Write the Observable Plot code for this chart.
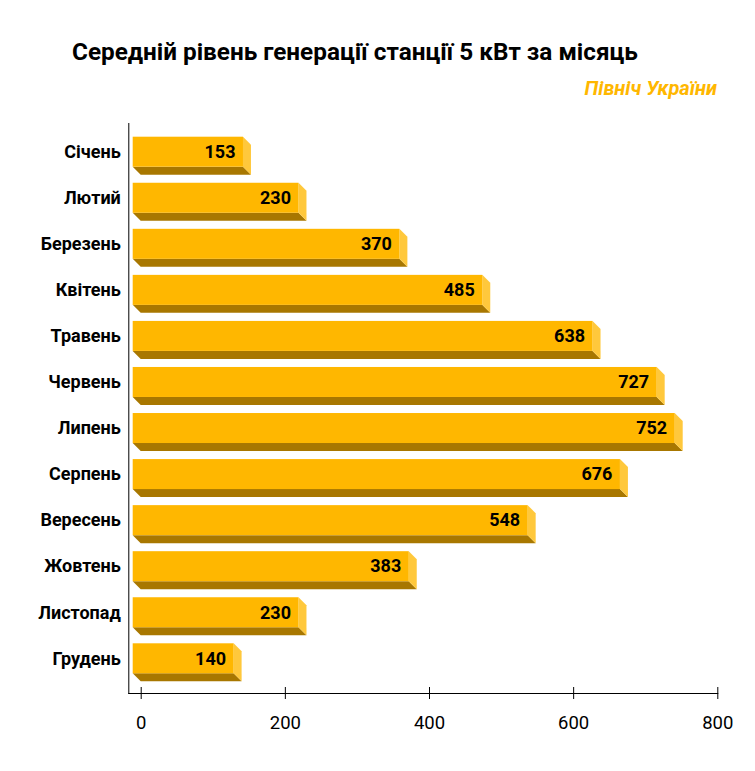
<!DOCTYPE html>
<html>
<head>
<meta charset="utf-8">
<script src="https://cdn.jsdelivr.net/npm/d3@7"></script>
<script src="https://cdn.jsdelivr.net/npm/@observablehq/plot@0.6"></script>
<style>
  html, body { margin: 0; padding: 0; background: #fff; }
  body { width: 755px; height: 771px; overflow: hidden; font-family: Roboto, "Noto Sans", sans-serif; }
  #title { margin-top: 34px; height: 36px; line-height: 36px; padding-left: 72px; font-size: 24.3px; font-weight: 700; color: #000; white-space: nowrap; }
  #subtitle { margin-top: 6px; height: 24px; line-height: 24px; text-align: right; padding-right: 38px; font-size: 20px; font-weight: 700; font-style: italic; color: #FFB700; }
  #chart { margin-top: 10px; height: 661px; }
  #chart svg { display: block; }
</style>
</head>
<body>
<div id="title">Середній рівень генерації станції 5 кВт за місяць</div>
<div id="subtitle">Північ України</div>
<div id="chart"></div>
<script>
const months = ["Січень","Лютий","Березень","Квітень","Травень","Червень","Липень","Серпень","Вересень","Жовтень","Листопад","Грудень"];
const values = [153, 230, 370, 485, 638, 727, 752, 676, 548, 383, 230, 140];
const xTicks = [0, 200, 400, 600, 800];

const colors = { front: "#FFB700", bottom: "#A87700", side: "#FFC83C" };

// layout (pixels)
const W = 755, H = 661;
const mL = 128.3, mR = 37.7, mT = 13, mB = 78;
const inL = 12.4, inT = 28.7, inB = 34.7;
const xDomain = [0, 800];
const pxPerX = (W - mR - mL - inL) / (xDomain[1] - xDomain[0]);
const pxPerY = (H - mB - inB - mT - inT) / (months.length - 1);
const depth = 8, halfH = 15;
const DX = depth / pxPerX, DY = depth / pxPerY, HH = halfH / pxPerY;

const rows = months.map((m, i) => ({ m, i, v: values[i] }));
const bottomPts = rows.flatMap(d => [
  { i: d.i, y: d.i + HH, x1: -DX, x2: d.v - DX },
  { i: d.i, y: d.i + HH + DY, x1: 0, x2: d.v }
]);
const sidePts = rows.flatMap(d => [
  { i: d.i, x: d.v - DX, y1: d.i - HH, y2: d.i + HH },
  { i: d.i, x: d.v, y1: d.i - HH + DY, y2: d.i + HH + DY }
]);

const chart = Plot.plot({
  width: W, height: H,
  marginLeft: mL, marginRight: mR, marginTop: mT, marginBottom: mB,
  style: { fontFamily: "Roboto, 'Noto Sans', sans-serif", color: "#000", background: "#fff" },
  x: { domain: xDomain, insetLeft: inL, insetRight: 0 },
  y: { domain: [0, months.length - 1], reverse: true, insetTop: inT, insetBottom: inB },
  marks: [
    Plot.areaX(bottomPts, { y: "y", x1: "x1", x2: "x2", z: "i", fill: colors.bottom, curve: "linear" }),
    Plot.areaY(sidePts, { x: "x", y1: "y1", y2: "y2", z: "i", fill: colors.side, curve: "linear" }),
    Plot.rect(rows, { x1: d => -DX, x2: d => d.v - DX, y1: d => d.i - HH, y2: d => d.i + HH, fill: colors.front }),
    Plot.text(rows, { x: "v", y: "i", text: d => String(d.v), dx: -16, textAnchor: "end", fontSize: 18, fontWeight: "bold", fill: "#000" }),
    Plot.axisY(d3.range(months.length), { tickFormat: i => months[i], tickSize: 0, tickPadding: 8, fontSize: 18, fontWeight: "bold", label: null }),
    Plot.axisX(xTicks, { tickSize: 12, dy: -6, tickPadding: 16, fontSize: 18.5, label: null, stroke: "#000" }),
    Plot.frame({ anchor: "left", stroke: "#000" }),
    Plot.frame({ anchor: "bottom", stroke: "#000" })
  ]
});
document.getElementById("chart").appendChild(chart);
</script>
</body>
</html>
